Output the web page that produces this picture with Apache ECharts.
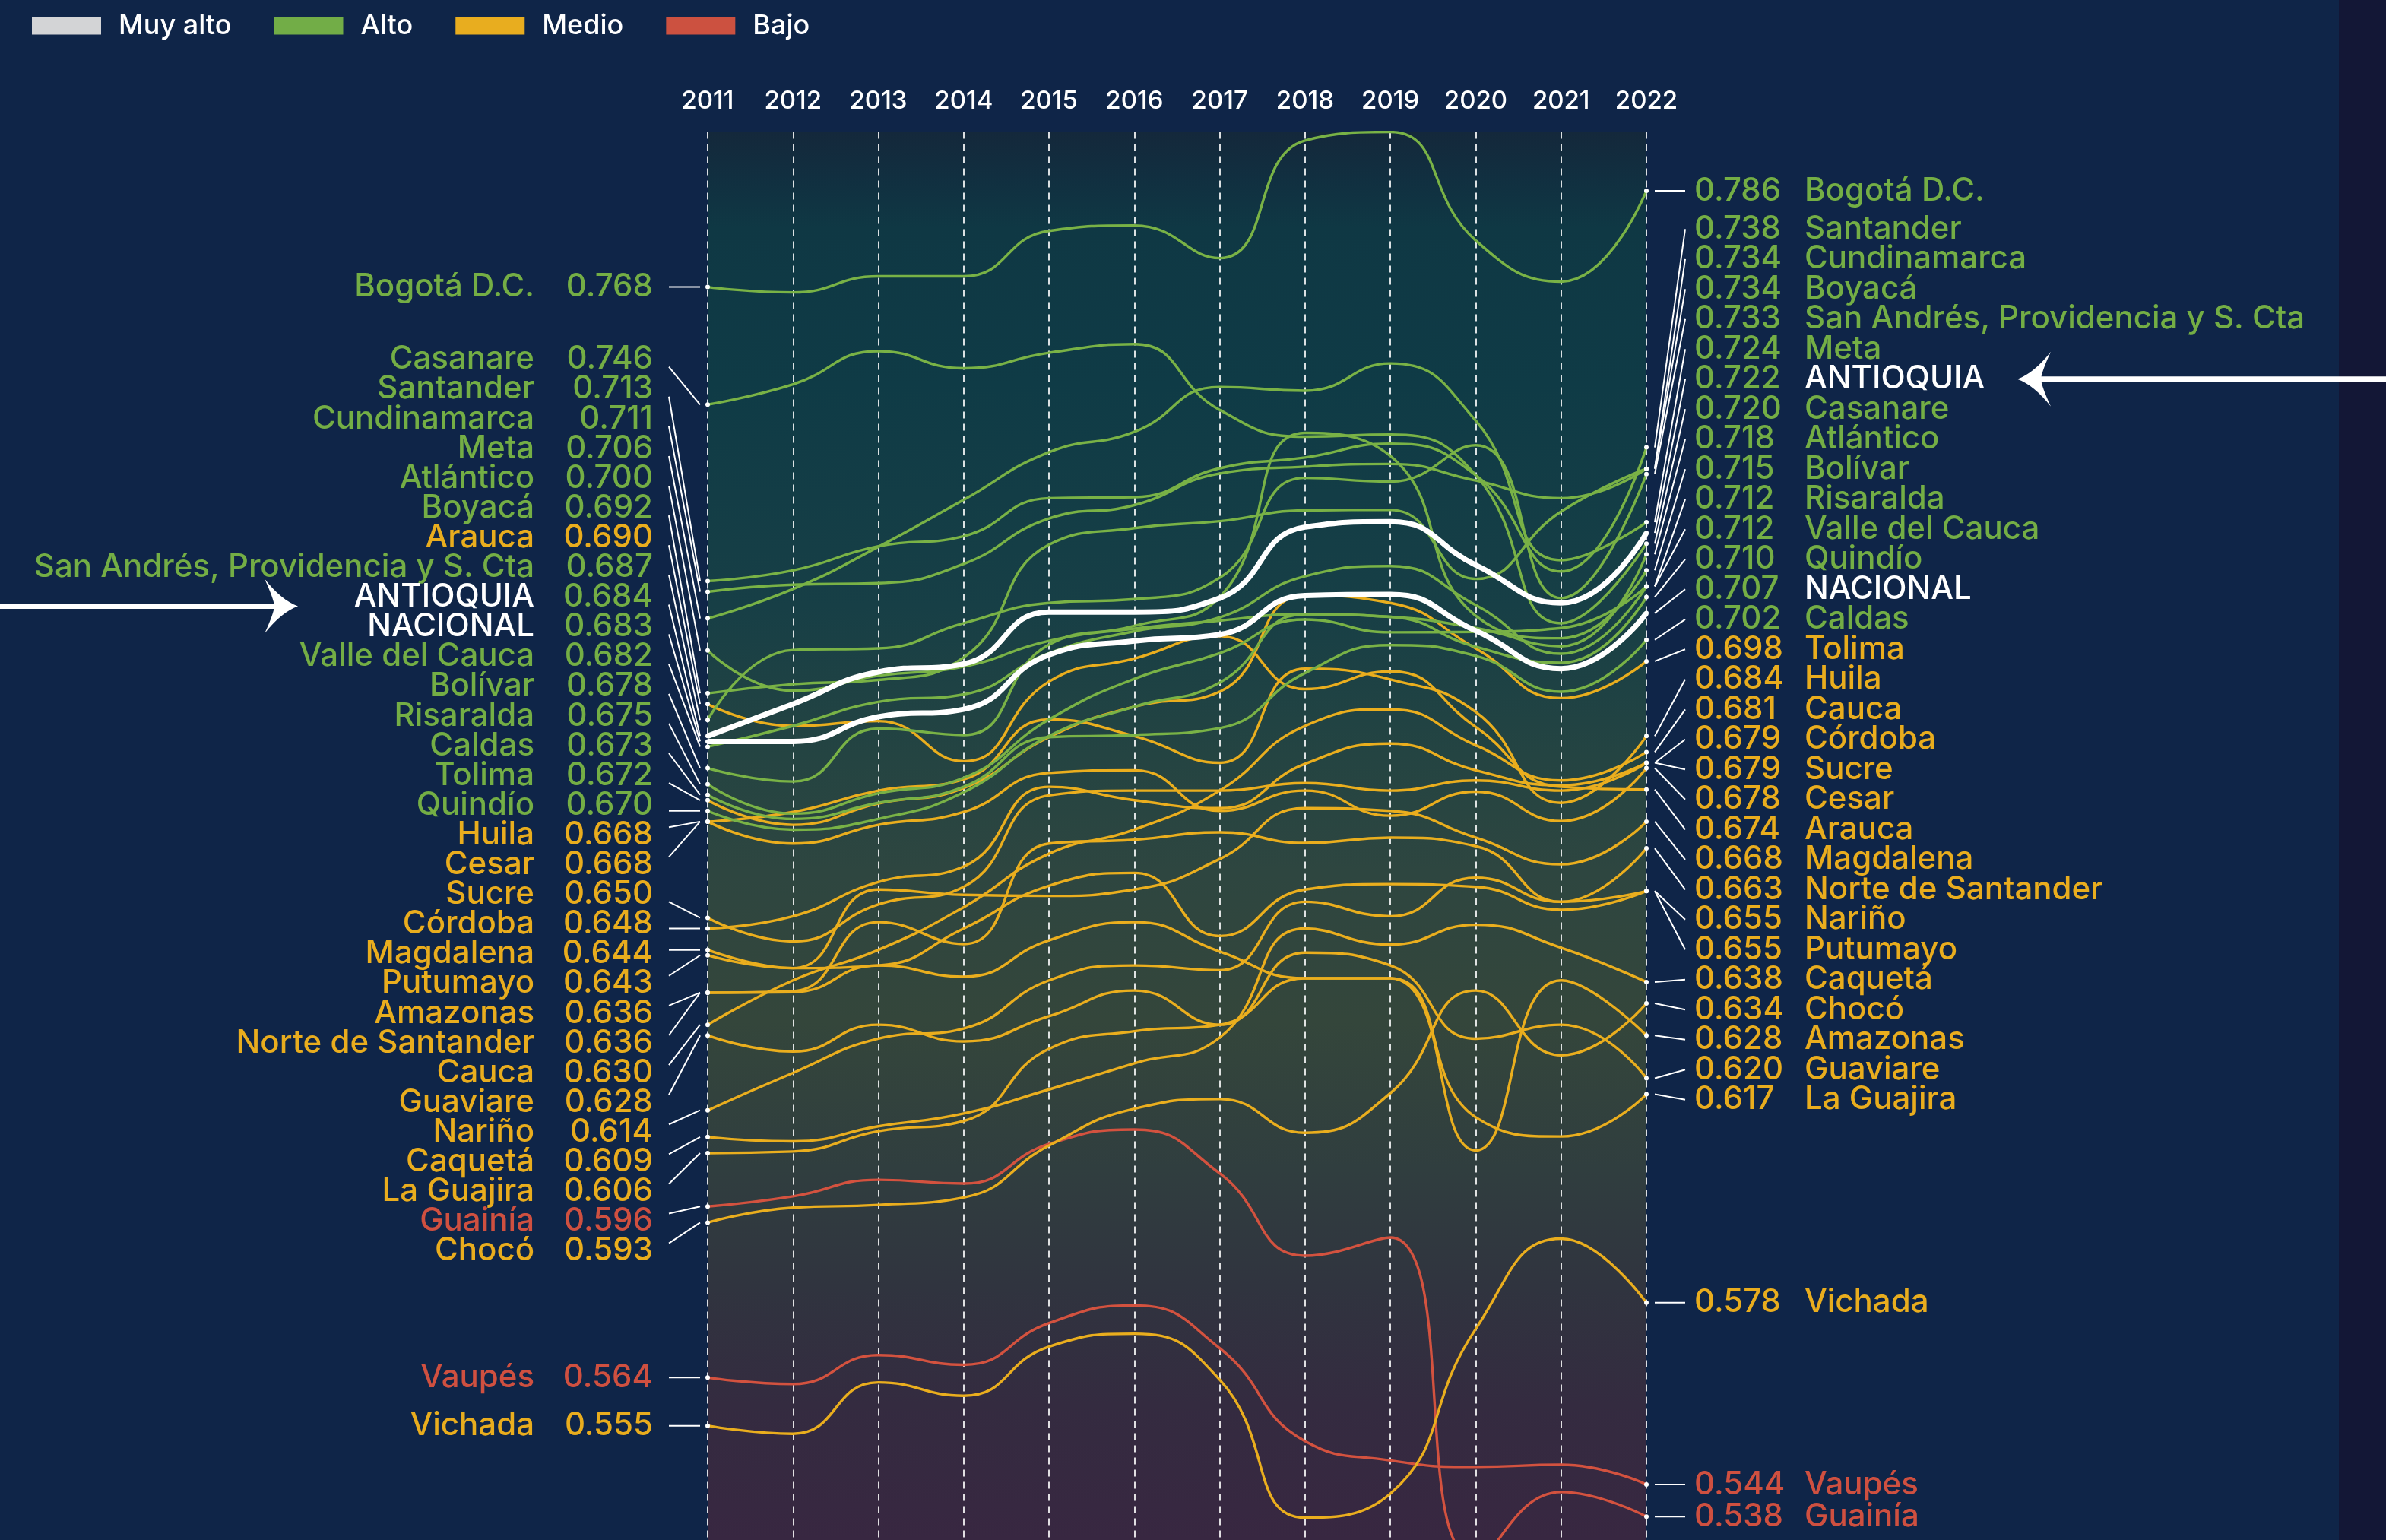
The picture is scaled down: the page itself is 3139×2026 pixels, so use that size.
<!DOCTYPE html>
<html lang="es">
<head>
<meta charset="utf-8">
<title>IDH departamental 2011-2022</title>
<script src="https://cdn.jsdelivr.net/npm/echarts@6/dist/echarts.min.js"></script>
<style>
  html, body { margin: 0; padding: 0; background: #0f2548; }
  #chart { width: 3139px; height: 2026px; }
</style>
</head>
<body>
<div id="chart"></div>
<script>
// years on the top axis
const years = ['2011', '2012', '2013', '2014', '2015', '2016', '2017', '2018', '2019', '2020', '2021', '2022'];

// index values per department, 2011 -> 2022
const bogota = [0.768, 0.767, 0.770, 0.770, 0.7785, 0.7795, 0.7734, 0.7954, 0.797, 0.7767, 0.769, 0.786];
const casanare = [0.746, 0.7498, 0.756, 0.7528, 0.7557, 0.7573, 0.745, 0.740, 0.7404, 0.7328, 0.7051, 0.720];
const santander = [0.713, 0.715, 0.7195, 0.7214, 0.7285, 0.7287, 0.7341, 0.7361, 0.7387, 0.7328, 0.7148, 0.738];
const cundinamarca = [0.711, 0.7123, 0.7126, 0.7162, 0.7247, 0.7272, 0.7331, 0.7344, 0.7349, 0.7318, 0.7285, 0.734];
const meta = [0.706, 0.7115, 0.7194, 0.7282, 0.7371, 0.7409, 0.7493, 0.7486, 0.7537, 0.743, 0.7169, 0.724];
const atlantico = [0.700, 0.6925, 0.6953, 0.697, 0.7018, 0.7041, 0.7056, 0.7068, 0.7063, 0.7042, 0.7008, 0.718];
const boyaca = [0.692, 0.6937, 0.6945, 0.6987, 0.7198, 0.7229, 0.7242, 0.7262, 0.7263, 0.7134, 0.7260, 0.734];
const arauca = [0.690, 0.6859, 0.6868, 0.6793, 0.6942, 0.6985, 0.7027, 0.6928, 0.6961, 0.6857, 0.6745, 0.674];
const sanAndres = [0.687, 0.7001, 0.7004, 0.7051, 0.7089, 0.7096, 0.7136, 0.7323, 0.7316, 0.7384, 0.7098, 0.733];
const antioquia = [0.684, 0.690, 0.696, 0.6975, 0.7072, 0.7072, 0.7098, 0.7231, 0.7241, 0.716, 0.7089, 0.722];
const nacional = [0.683, 0.683, 0.6876, 0.689, 0.6992, 0.7018, 0.703, 0.7103, 0.7105, 0.7037, 0.6966, 0.707];
const valle = [0.682, 0.6859, 0.6904, 0.6918, 0.6995, 0.7036, 0.7062, 0.7139, 0.7158, 0.7085, 0.6994, 0.712];
const bolivar = [0.678, 0.6755, 0.6854, 0.6842, 0.7011, 0.7046, 0.7100, 0.7407, 0.7364, 0.7065, 0.7023, 0.715];
const risaralda = [0.675, 0.6695, 0.6733, 0.6762, 0.6871, 0.6947, 0.6995, 0.7058, 0.7034, 0.7035, 0.7042, 0.712];
const caldas = [0.673, 0.6685, 0.6715, 0.6745, 0.6838, 0.6842, 0.6855, 0.6958, 0.701, 0.699, 0.6923, 0.702];
const tolima = [0.672, 0.6674, 0.6714, 0.6743, 0.6838, 0.6895, 0.6923, 0.7103, 0.7089, 0.7004, 0.6911, 0.698];
const quindio = [0.670, 0.6665, 0.6685, 0.6735, 0.684, 0.6895, 0.694, 0.7068, 0.7063, 0.7007, 0.6977, 0.710];
const huila = [0.668, 0.6698, 0.6738, 0.6759, 0.6871, 0.6840, 0.6790, 0.6966, 0.6946, 0.6885, 0.6715, 0.684];
const cesar = [0.668, 0.6639, 0.6674, 0.6698, 0.6771, 0.6776, 0.6700, 0.6738, 0.6691, 0.6736, 0.6681, 0.678];
const sucre = [0.650, 0.6456, 0.6525, 0.6558, 0.6729, 0.6738, 0.6738, 0.6752, 0.6738, 0.6757, 0.6738, 0.679];
const cordoba = [0.648, 0.6503, 0.6567, 0.6596, 0.6745, 0.6720, 0.6705, 0.6788, 0.6826, 0.6776, 0.6748, 0.679];
const magdalena = [0.644, 0.6406, 0.6553, 0.6543, 0.6541, 0.6553, 0.6610, 0.6705, 0.6700, 0.6650, 0.6600, 0.668];
const putumayo = [0.643, 0.6406, 0.6411, 0.6480, 0.6560, 0.6584, 0.6466, 0.6553, 0.6563, 0.6558, 0.6515, 0.655];
const amazonas = [0.636, 0.6361, 0.6411, 0.6390, 0.6458, 0.6492, 0.6437, 0.6387, 0.6387, 0.6065, 0.6383, 0.628];
const nds = [0.636, 0.6363, 0.6492, 0.6451, 0.6639, 0.6646, 0.6660, 0.6640, 0.6650, 0.6634, 0.6530, 0.663];
const cauca = [0.630, 0.6383, 0.6440, 0.6520, 0.6620, 0.6665, 0.6738, 0.6859, 0.6890, 0.6823, 0.6757, 0.681];
const guaviare = [0.628, 0.6250, 0.6300, 0.6269, 0.6316, 0.6364, 0.6300, 0.6435, 0.6411, 0.6274, 0.6300, 0.620];
const narino = [0.614, 0.6210, 0.6274, 0.6293, 0.6383, 0.6411, 0.6402, 0.6530, 0.6503, 0.6575, 0.6530, 0.655];
const caqueta = [0.609, 0.6082, 0.6110, 0.6134, 0.6179, 0.6228, 0.6276, 0.6480, 0.6450, 0.6487, 0.6444, 0.638];
const laGuajira = [0.606, 0.6063, 0.6101, 0.6120, 0.6255, 0.6288, 0.6300, 0.6387, 0.6387, 0.6127, 0.6091, 0.617];
const guainia = [0.596, 0.5979, 0.6010, 0.6003, 0.6077, 0.6104, 0.6022, 0.5868, 0.5902, 0.530, 0.5426, 0.538];
const choco = [0.593, 0.5958, 0.5963, 0.5977, 0.6074, 0.6143, 0.6161, 0.6098, 0.6172, 0.6364, 0.6243, 0.634];
const vaupes = [0.564, 0.5628, 0.5682, 0.5664, 0.5742, 0.5775, 0.5695, 0.5521, 0.5485, 0.5473, 0.5477, 0.544];
const vichada = [0.555, 0.5535, 0.5631, 0.5606, 0.5698, 0.5722, 0.5636, 0.5378, 0.5423, 0.5731, 0.5900, 0.578];

// legend categories
const legendNames = ['Muy alto', 'Alto', 'Medio', 'Bajo'];

// line group, 2011 label group, 2022 label group
const rows = [
  { name: 'Bogotá D.C.', values: bogota, line: 'alto', left: 'alto', right: 'alto' },
  { name: 'Casanare', values: casanare, line: 'alto', left: 'alto', right: 'alto' },
  { name: 'Santander', values: santander, line: 'alto', left: 'alto', right: 'alto' },
  { name: 'Cundinamarca', values: cundinamarca, line: 'alto', left: 'alto', right: 'alto' },
  { name: 'Meta', values: meta, line: 'alto', left: 'alto', right: 'alto' },
  { name: 'Atlántico', values: atlantico, line: 'alto', left: 'alto', right: 'alto' },
  { name: 'Boyacá', values: boyaca, line: 'alto', left: 'alto', right: 'alto' },
  { name: 'Arauca', values: arauca, line: 'medio', left: 'medio', right: 'medio' },
  { name: 'San Andrés, Providencia y S. Cta', values: sanAndres, line: 'alto', left: 'alto', right: 'alto' },
  { name: 'ANTIOQUIA', values: antioquia, line: 'hl', left: 'hl', right: 'hl' },
  { name: 'NACIONAL', values: nacional, line: 'hl', left: 'hl', right: 'hl' },
  { name: 'Valle del Cauca', values: valle, line: 'alto', left: 'alto', right: 'alto' },
  { name: 'Bolívar', values: bolivar, line: 'alto', left: 'alto', right: 'alto' },
  { name: 'Risaralda', values: risaralda, line: 'alto', left: 'alto', right: 'alto' },
  { name: 'Caldas', values: caldas, line: 'alto', left: 'alto', right: 'alto' },
  { name: 'Tolima', values: tolima, line: 'medio', left: 'alto', right: 'medio' },
  { name: 'Quindío', values: quindio, line: 'alto', left: 'alto', right: 'alto' },
  { name: 'Huila', values: huila, line: 'medio', left: 'medio', right: 'medio' },
  { name: 'Cesar', values: cesar, line: 'medio', left: 'medio', right: 'medio' },
  { name: 'Sucre', values: sucre, line: 'medio', left: 'medio', right: 'medio' },
  { name: 'Córdoba', values: cordoba, line: 'medio', left: 'medio', right: 'medio' },
  { name: 'Magdalena', values: magdalena, line: 'medio', left: 'medio', right: 'medio' },
  { name: 'Putumayo', values: putumayo, line: 'medio', left: 'medio', right: 'medio' },
  { name: 'Amazonas', values: amazonas, line: 'medio', left: 'medio', right: 'medio' },
  { name: 'Norte de Santander', values: nds, line: 'medio', left: 'medio', right: 'medio' },
  { name: 'Cauca', values: cauca, line: 'medio', left: 'medio', right: 'medio' },
  { name: 'Guaviare', values: guaviare, line: 'medio', left: 'medio', right: 'medio' },
  { name: 'Nariño', values: narino, line: 'medio', left: 'medio', right: 'medio' },
  { name: 'Caquetá', values: caqueta, line: 'medio', left: 'medio', right: 'medio' },
  { name: 'La Guajira', values: laGuajira, line: 'medio', left: 'medio', right: 'medio' },
  { name: 'Guainía', values: guainia, line: 'bajo', left: 'bajo', right: 'bajo' },
  { name: 'Chocó', values: choco, line: 'medio', left: 'medio', right: 'medio' },
  { name: 'Vaupés', values: vaupes, line: 'bajo', left: 'bajo', right: 'bajo' },
  { name: 'Vichada', values: vichada, line: 'medio', left: 'medio', right: 'medio' }
];

// order of the 2022 labels (ties kept as printed)
const rightOrder = ['Bogotá D.C.', 'Santander', 'Cundinamarca', 'Boyacá', 'San Andrés, Providencia y S. Cta', 'Meta',
  'ANTIOQUIA', 'Casanare', 'Atlántico', 'Bolívar', 'Risaralda', 'Valle del Cauca', 'Quindío', 'NACIONAL', 'Caldas',
  'Tolima', 'Huila', 'Cauca', 'Córdoba', 'Sucre', 'Cesar', 'Arauca', 'Magdalena', 'Norte de Santander', 'Nariño',
  'Putumayo', 'Caquetá', 'Chocó', 'Amazonas', 'Guaviare', 'La Guajira', 'Vichada', 'Vaupés', 'Guainía'];

const lineColor = { alto: '#79b246', medio: '#eaae1e', bajo: '#d3523f', hl: '#ffffff' };
const textColor = { alto: '#74ae45', medio: '#e9ad1e', bajo: '#cf5040', hl: '#ffffff' };
const legendColor = ['#d3d4d6', '#72ad47', '#e8ad1f', '#cc5140'];
const FONT = 'Inter, "Noto Sans", sans-serif';

const chart = echarts.init(document.getElementById('chart'), null, { renderer: 'canvas' });

const lastIdx = years.length - 1;
const lineSeries = rows.map((r) => ({
  name: r.name,
  type: 'line',
  data: r.values,
  smooth: 0.5,
  showAllSymbol: true,
  symbol: 'circle',
  symbolSize: (v, p) => (p.dataIndex === 0 || p.dataIndex === lastIdx ? 6 : 0),
  itemStyle: { color: '#ffffff' },
  lineStyle: { color: lineColor[r.line], width: r.line === 'hl' ? 7 : 3.4 },
  emphasis: { disabled: true },
  silent: true,
  z: r.line === 'hl' ? 5 : (r.line === 'alto' ? 3 : 2)
}));

const legendSeries = legendNames.map((name, i) => ({
  name,
  type: 'line',
  data: [],
  itemStyle: { color: legendColor[i] },
  lineStyle: { color: legendColor[i] }
}));

const option = {
  backgroundColor: '#0f2548',
  animation: false,
  textStyle: { fontFamily: FONT },
  legend: {
    data: legendNames,
    left: 37,
    top: 11,
    icon: 'rect',
    itemWidth: 91,
    itemHeight: 23,
    itemGap: 56,
    selectedMode: false,
    textStyle: { color: '#ffffff', fontSize: 36, fontWeight: 500, fontFamily: FONT, padding: [0, 0, 0, 18] }
  },
  grid: {
    left: 931,
    width: 1235,
    top: 173.6,
    height: 1948.2,
    outerBoundsMode: 'none',
    containLabel: false,
    show: true,
    borderWidth: 0,
    backgroundColor: new echarts.graphic.LinearGradient(0, 0, 0, 1, [
      { offset: 0, color: '#14283b' },
      { offset: 0.03, color: '#112f40' },
      { offset: 0.065, color: '#0f3844' },
      { offset: 0.17, color: '#0f3b46' },
      { offset: 0.32, color: '#173f46' },
      { offset: 0.42, color: '#244442' },
      { offset: 0.5, color: '#2e4640' },
      { offset: 0.6, color: '#34463b' },
      { offset: 0.7, color: '#303e3f' },
      { offset: 0.78, color: '#30343f' },
      { offset: 0.86, color: '#342b40' },
      { offset: 0.95, color: '#382741' },
      { offset: 1, color: '#392641' }
    ])
  },
  xAxis: {
    type: 'category',
    data: years,
    position: 'top',
    boundaryGap: false,
    axisLine: { show: false },
    axisTick: { show: false },
    axisLabel: { color: '#ffffff', fontSize: 33, fontWeight: 500, fontFamily: FONT, margin: 24 },
    splitLine: { show: true, lineStyle: { color: 'rgba(255,255,255,0.85)', width: 2, type: [9, 7] } }
  },
  yAxis: { type: 'value', min: 0.52, max: 0.797, show: false },
  series: lineSeries.concat(legendSeries)
};

chart.setOption(option);

// ---- end labels with leader lines ----
const yOf = (v) => chart.convertToPixel({ yAxisIndex: 0 }, v);
const xFirst = chart.convertToPixel({ xAxisIndex: 0 }, years[0]);
const xLast = chart.convertToPixel({ xAxisIndex: 0 }, years[lastIdx]);

const median = (arr) => {
  const s = arr.slice().sort((a, b) => a - b);
  const m = Math.floor(s.length / 2);
  return s.length % 2 ? s[m] : (s[m - 1] + s[m]) / 2;
};

// push overlapping labels apart, each packed group sits near the median of its wishes
const LIFT = 31;
const spread = (items, gap) => {
  let groups = items.map((it, i) => ({ a: i, b: i, pos: it.ideal }));
  let again = true;
  while (again) {
    again = false;
    for (let k = 0; k < groups.length - 1; k++) {
      const g1 = groups[k];
      const g2 = groups[k + 1];
      if (g2.pos - (g1.pos + (g1.b - g1.a) * gap) < gap) {
        const offs = [];
        for (let i = g1.a; i <= g2.b; i++) offs.push(items[i].ideal - (i - g1.a) * gap);
        groups.splice(k, 2, { a: g1.a, b: g2.b, pos: median(offs) });
        again = true;
        break;
      }
    }
  }
  groups.forEach((g) => {
    const lift = g.b > g.a ? LIFT : 0;
    for (let i = g.a; i <= g.b; i++) items[i].y = g.pos - lift + (i - g.a) * gap;
  });
};

const leftItems = rows.map((r) => ({ row: r, ideal: yOf(r.values[0]) }));
const rightItems = rightOrder.map((n) => {
  const r = rows.find((row) => row.name === n);
  return { row: r, ideal: yOf(r.values[lastIdx]) };
});
spread(leftItems, 39.1);
spread(rightItems, 39.5);

const labelFont = '500 42px ' + FONT;
const numColor = (cls) => (cls === 'hl' ? textColor.alto : textColor[cls]);
const clamp = (v, lo, hi) => Math.max(lo, Math.min(hi, v));
const elements = [];

elements.push({
  type: 'rect', z: -10, silent: true,
  shape: { x: 3077, y: 0, width: 62, height: 2026 },
  style: { fill: '#131736' }
});

leftItems.forEach((it) => {
  const r = it.row;
  elements.push({
    type: 'text', silent: true, z: 20,
    style: { text: r.name, x: xFirst - 228, y: it.y, font: labelFont, fill: textColor[r.left], textAlign: 'right', textVerticalAlign: 'middle' }
  });
  elements.push({
    type: 'text', silent: true, z: 20,
    style: { text: r.values[0].toFixed(3), x: xFirst - 72, y: it.y, font: labelFont, fill: numColor(r.left), textAlign: 'right', textVerticalAlign: 'middle' }
  });
  elements.push({
    type: 'line', silent: true, z: 20,
    shape: { x1: xFirst - 51, y1: it.y + clamp(it.ideal - it.y, -10, 10), x2: xFirst - 10, y2: it.ideal },
    style: { stroke: '#ffffff', lineWidth: 2 }
  });
});

rightItems.forEach((it) => {
  const r = it.row;
  elements.push({
    type: 'text', silent: true, z: 20,
    style: { text: r.values[lastIdx].toFixed(3), x: xLast + 63, y: it.y, font: labelFont, fill: numColor(r.right), textAlign: 'left', textVerticalAlign: 'middle' }
  });
  elements.push({
    type: 'text', silent: true, z: 20,
    style: { text: r.name, x: xLast + 208, y: it.y, font: labelFont, fill: textColor[r.right], textAlign: 'left', textVerticalAlign: 'middle' }
  });
  elements.push({
    type: 'line', silent: true, z: 20,
    shape: { x1: xLast + 11, y1: it.ideal, x2: xLast + 51, y2: it.y },
    style: { stroke: '#ffffff', lineWidth: 2 }
  });
});

// ---- arrows pointing at ANTIOQUIA ----
const quad = (p0, p1, p2, n) => {
  const out = [];
  for (let i = 1; i <= n; i++) {
    const t = i / n;
    const u = 1 - t;
    out.push([u * u * p0[0] + 2 * u * t * p1[0] + t * t * p2[0], u * u * p0[1] + 2 * u * t * p1[1] + t * t * p2[1]]);
  }
  return out;
};
const arrowHead = (tipX, y, dir) => {
  const p = (dx, dy) => [tipX - dir * dx, y + dy];
  const tip = p(0, 0);
  let pts = [tip];
  pts = pts.concat(quad(tip, p(22, -8), p(44, -36), 8));
  pts = pts.concat(quad(p(44, -36), p(32, -10), p(31, 0), 8));
  pts = pts.concat(quad(p(31, 0), p(32, 10), p(44, 36), 8));
  pts = pts.concat(quad(p(44, 36), p(22, 8), tip, 8));
  return pts;
};

const leftA = leftItems.find((it) => it.row.name === 'ANTIOQUIA');
const rightA = rightItems.find((it) => it.row.name === 'ANTIOQUIA');
const leftTip = xFirst - 539;
const leftY = leftA.y + 12;
elements.push({ type: 'rect', silent: true, z: 21, shape: { x: 0, y: leftY - 3.5, width: leftTip - 28, height: 7 }, style: { fill: '#ffffff' } });
elements.push({ type: 'polygon', silent: true, z: 21, shape: { points: arrowHead(leftTip, leftY, 1) }, style: { fill: '#ffffff' } });

const rightTip = xLast + 488;
const rightY = rightA.y;
elements.push({ type: 'rect', silent: true, z: 21, shape: { x: rightTip + 28, y: rightY - 3.5, width: 3139 - rightTip - 28, height: 7 }, style: { fill: '#ffffff' } });
elements.push({ type: 'polygon', silent: true, z: 21, shape: { points: arrowHead(rightTip, rightY, -1) }, style: { fill: '#ffffff' } });

chart.setOption({ graphic: { elements } });
</script>
</body>
</html>
